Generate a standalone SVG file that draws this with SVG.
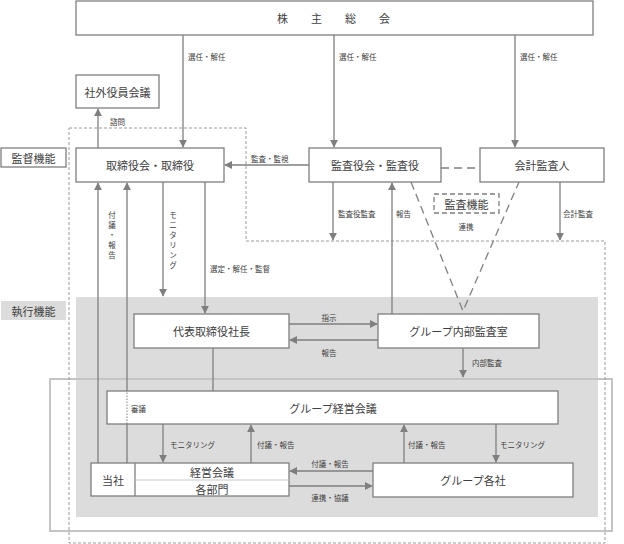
<svg xmlns="http://www.w3.org/2000/svg" width="624" height="544" viewBox="0 0 624 544">
<style>
.box{fill:#fff;stroke:#7f7f7f;stroke-width:1.3}
.ln{stroke:#7f7f7f;stroke-width:1.3;fill:none}
.t{font-family:"Noto Sans CJK JP","Noto Sans",sans-serif;fill:#404040;font-size:11px;text-anchor:middle;dominant-baseline:central}
.s{font-family:"Noto Sans CJK JP","Noto Sans",sans-serif;fill:#404040;font-size:7.5px;dominant-baseline:central}
.sc{text-anchor:middle}
</style>
<defs>
<marker id="ah" viewBox="0 0 10 10" refX="9" refY="5" markerWidth="8" markerHeight="8" markerUnits="userSpaceOnUse" orient="auto">
<path d="M0,0 L10,5 L0,10 z" fill="#7f7f7f"/>
</marker>
</defs>
<g id="background">
<rect x="76" y="297" width="522" height="220" fill="#dcdcdc"/>
<rect x="50" y="379" width="562" height="152" fill="none" stroke="#c4c4c4" stroke-width="2"/>
<path d="M69,128 H246 V241 H605 V543 H69 Z" fill="none" stroke="#9a9a9a" stroke-width="1" stroke-dasharray="3,2"/>
</g>
<g id="label-kantoku">
<rect x="1" y="148" width="65" height="19" class="box"/>
<text x="33.5" y="157.5" class="t">監督機能</text>
</g>
<g id="label-shikko">
<rect x="1" y="301" width="65" height="19" fill="#dcdcdc"/>
<text x="33.5" y="310.5" class="t">執行機能</text>
</g>
<g id="kabunushi">
<rect x="76" y="1" width="517" height="34" class="box"/>
<text x="345" y="18" class="t" letter-spacing="23">株主総会</text>
</g>
<g id="shagai">
<rect x="76" y="75" width="83" height="33" class="box"/>
<text x="117.5" y="91.5" class="t">社外役員会議</text>
</g>
<g id="torishimariyakukai">
<rect x="76" y="148" width="148" height="34" class="box"/>
<text x="150" y="165" class="t">取締役会・取締役</text>
</g>
<g id="kansayakukai">
<rect x="309" y="148" width="132" height="34" class="box"/>
<text x="375" y="165" class="t">監査役会・監査役</text>
</g>
<g id="kaikei">
<rect x="480" y="148" width="124" height="34" class="box"/>
<text x="542" y="165" class="t">会計監査人</text>
</g>
<g id="kansakino">
<rect x="434" y="194" width="65" height="19" fill="#fff" stroke="#7f7f7f" stroke-width="1.3" stroke-dasharray="5,3"/>
<text x="466.5" y="203.5" class="t">監査機能</text>
</g>
<g id="shacho">
<rect x="134" y="314" width="155" height="34" class="box"/>
<text x="211.5" y="331" class="t">代表取締役社長</text>
</g>
<g id="naibukansa">
<rect x="378" y="314" width="161" height="34" class="box"/>
<text x="458.5" y="331" class="t">グループ内部監査室</text>
</g>
<g id="group-keiei">
<rect x="107" y="391" width="451" height="33" class="box"/>
<text x="333" y="407.5" class="t">グループ経営会議</text>
<text x="131" y="408" class="s">審議</text>
</g>
<g id="tousha">
<rect x="91" y="463" width="198" height="33" class="box"/>
<line x1="135" y1="463" x2="135" y2="496" class="ln" stroke="#aaa"/>
<line x1="135" y1="480" x2="289" y2="480" stroke="#c8c8c8" stroke-width="1"/>
<text x="113" y="479.5" class="t">当社</text>
<text x="212" y="471.5" class="t">経営会議</text>
<text x="212" y="488.5" class="t">各部門</text>
</g>
<g id="group-kakusha">
<rect x="373" y="463" width="200" height="34" class="box"/>
<text x="473" y="480" class="t">グループ各社</text>
</g>
<g id="connectors">
<line x1="183" y1="35" x2="183" y2="147" class="ln" marker-end="url(#ah)"/>
<line x1="334" y1="35" x2="334" y2="147" class="ln" marker-end="url(#ah)"/>
<line x1="515" y1="35" x2="515" y2="147" class="ln" marker-end="url(#ah)"/>
<line x1="98" y1="148" x2="98" y2="109" class="ln" marker-end="url(#ah)"/>
<line x1="309" y1="165" x2="225" y2="165" class="ln" marker-end="url(#ah)"/>
<line x1="441" y1="168" x2="480" y2="168" class="ln" stroke-dasharray="8,5"/>
<line x1="333" y1="182" x2="333" y2="240" class="ln" marker-end="url(#ah)"/>
<line x1="560" y1="182" x2="560" y2="240" class="ln" marker-end="url(#ah)"/>
<line x1="392" y1="314" x2="392" y2="183" class="ln" marker-end="url(#ah)"/>
<path d="M411,182 L463,311 L519,182" class="ln" stroke-dasharray="8,5"/>
<line x1="98" y1="463" x2="98" y2="183" class="ln" marker-end="url(#ah)"/>
<line x1="127" y1="463" x2="127" y2="424" class="ln"/>
<line x1="127" y1="424" x2="127" y2="391" stroke="#7f7f7f" stroke-width="1" stroke-dasharray="1.5,1.5"/>
<line x1="127" y1="391" x2="127" y2="183" class="ln" marker-end="url(#ah)"/>
<line x1="163" y1="182" x2="163" y2="296" class="ln" marker-end="url(#ah)"/>
<line x1="205" y1="182" x2="205" y2="313" class="ln" marker-end="url(#ah)"/>
<line x1="289" y1="324" x2="377" y2="324" class="ln" marker-end="url(#ah)"/>
<line x1="378" y1="340" x2="290" y2="340" class="ln" marker-end="url(#ah)"/>
<line x1="463" y1="348" x2="463" y2="377" class="ln" marker-end="url(#ah)"/>
<line x1="213" y1="348" x2="213" y2="391" class="ln"/>
<line x1="163" y1="424" x2="163" y2="462" class="ln" marker-end="url(#ah)"/>
<line x1="251" y1="463" x2="251" y2="425" class="ln" marker-end="url(#ah)"/>
<line x1="404" y1="463" x2="404" y2="425" class="ln" marker-end="url(#ah)"/>
<line x1="496" y1="424" x2="496" y2="462" class="ln" marker-end="url(#ah)"/>
<line x1="373" y1="471" x2="290" y2="471" class="ln" marker-end="url(#ah)"/>
<line x1="289" y1="486" x2="372" y2="486" class="ln" marker-end="url(#ah)"/>
</g>
<g id="connector-labels">
<text x="188" y="56" class="s">選任・解任</text>
<text x="339" y="56" class="s">選任・解任</text>
<text x="520" y="56" class="s">選任・解任</text>
<text x="110" y="121" class="s">諮問</text>
<text x="251" y="158" class="s">監査・監視</text>
<text x="338" y="213" class="s">監査役監査</text>
<text x="396" y="213" class="s">報告</text>
<text x="563" y="213" class="s">会計監査</text>
<text x="466" y="226" class="s sc">連携</text>
<text x="112" y="214" class="s sc">付</text>
<text x="112" y="224" class="s sc">議</text>
<text x="112" y="234" class="s sc">・</text>
<text x="112" y="244" class="s sc">報</text>
<text x="112" y="254" class="s sc">告</text>
<text x="173" y="214" class="s sc">モ</text>
<text x="173" y="224" class="s sc">ニ</text>
<text x="173" y="234" class="s sc">タ</text>
<text x="173" y="244" class="s sc">リ</text>
<text x="173" y="254" class="s sc">ン</text>
<text x="173" y="264" class="s sc">グ</text>
<text x="210" y="268" class="s">選定・解任・監督</text>
<text x="329" y="317" class="s sc">指示</text>
<text x="329" y="352" class="s sc">報告</text>
<text x="472" y="362" class="s">内部監査</text>
<text x="170" y="444" class="s">モニタリング</text>
<text x="257" y="444" class="s">付議・報告</text>
<text x="408" y="444" class="s">付議・報告</text>
<text x="500" y="444" class="s">モニタリング</text>
<text x="330" y="463" class="s sc">付議・報告</text>
<text x="330" y="497" class="s sc">連携・協議</text>
</g>
</svg>
